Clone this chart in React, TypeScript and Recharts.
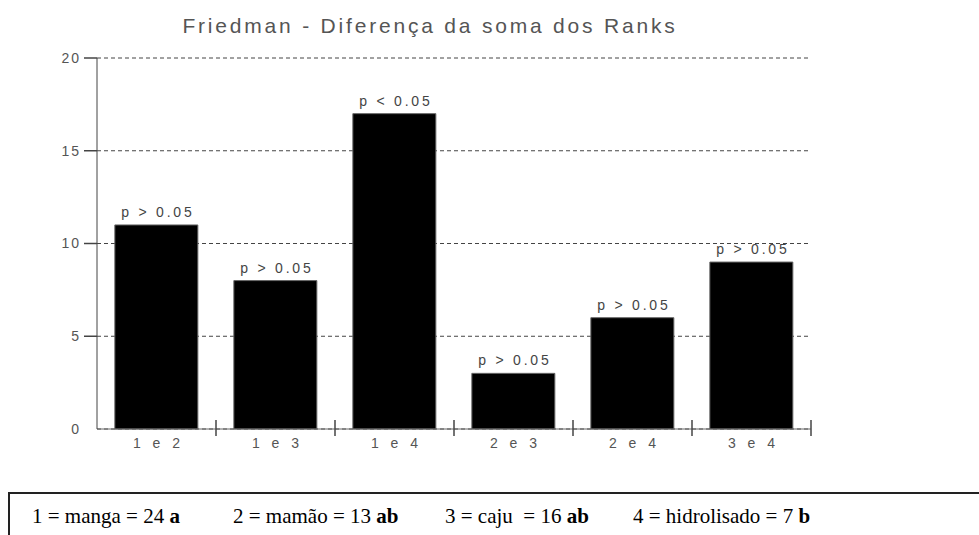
import React from "react";
import {
  Bar,
  BarChart,
  CartesianGrid,
  LabelList,
  XAxis,
  YAxis,
} from "recharts";

const comparisons = ["1 e 2", "1 e 3", "1 e 4", "2 e 3", "2 e 4", "3 e 4"];
const rankDiffs = [11, 8, 17, 3, 6, 9];
const pLabels = ["p > 0.05", "p > 0.05", "p < 0.05", "p > 0.05", "p > 0.05", "p > 0.05"];
const yTicks = [0, 5, 10, 15, 20];
const legendLabels = ["1 = manga = 24 ", "2 = mamão = 13 ", "3 = caju  = 16 ", "4 = hidrolisado = 7 "];
const legendGroups = ["a", "ab", "ab", "b"];
const legendX = [32, 233, 445, 633];

const data = comparisons.map((name, i) => ({
  name,
  value: rankDiffs[i],
  p: pLabels[i],
}));

const SANS = "'Liberation Sans', Arial, sans-serif";
const CHART_W = 979;
const CHART_H = 535;
const MARGIN = { top: 58, right: 168, left: 37, bottom: 76 };
const Y_W = 60;
const Y_TICK = 13;
const BAND = (CHART_W - MARGIN.left - MARGIN.right - Y_W) / comparisons.length;

// category label plus the separator tick at the right edge of each band
const CatTick = (props: any) => {
  const { x, y, payload } = props;
  const bx = x + BAND / 2;
  return (
    <g>
      <line x1={bx} x2={bx} y1={y - 18} y2={y - 2} stroke="#444" strokeWidth={1.5} />
      <text
        x={x + 2}
        y={y}
        dy="0.71em"
        textAnchor="middle"
        fill="#555"
        fontSize={14}
        fontFamily={SANS}
        style={{ letterSpacing: 4 }}
      >
        {payload.value}
      </text>
    </g>
  );
};

// y label plus the short tick line (none at zero)
const ValTick = (props: any) => {
  const { x, y, payload } = props;
  return (
    <g>
      {payload.value !== 0 && (
        <line x1={x + 3} x2={x + 3 + Y_TICK} y1={y} y2={y} stroke="#444" strokeWidth={1.5} />
      )}
      <text
        x={x}
        y={y}
        dy="0.355em"
        textAnchor="end"
        fill="#555"
        fontSize={14}
        fontFamily={SANS}
        style={{ letterSpacing: 2 }}
      >
        {payload.value}
      </text>
    </g>
  );
};

const PLabel = (props: any) => {
  const { x, y, width, value } = props;
  return (
    <text
      x={x + width / 2 + 1.5}
      y={y - 8}
      textAnchor="middle"
      fill="#444"
      fontSize={14}
      fontFamily={SANS}
      style={{ letterSpacing: 2.8 }}
    >
      {value}
    </text>
  );
};

const App = () => {
  return (
    <div style={{ position: "absolute", left: 0, top: 0, width: CHART_W, height: CHART_H, background: "#fff", overflow: "hidden" }}>
      <BarChart
        width={CHART_W}
        height={CHART_H}
        data={data}
        margin={MARGIN}
        barCategoryGap="15%"
      >
        <CartesianGrid vertical={false} stroke="#444" strokeDasharray="4 3" />
        <XAxis
          dataKey="name"
          height={30}
          stroke="#666"
          tickLine={false}
          tickSize={0}
          tickMargin={9}
          interval={0}
          tick={<CatTick />}
        />
        <YAxis
          width={Y_W}
          domain={[0, 20]}
          ticks={yTicks}
          stroke="#444"
          tickLine={false}
          tickSize={Y_TICK}
          tickMargin={3}
          interval={0}
          tick={<ValTick />}
        />
        <Bar
          dataKey="value"
          fill="#000"
          stroke="#666"
          strokeWidth={1}
          isAnimationActive={false}
        >
          <LabelList dataKey="p" content={<PLabel />} />
        </Bar>
      </BarChart>
      <svg
        width={CHART_W}
        height={CHART_H}
        style={{ position: "absolute", left: 0, top: 0, pointerEvents: "none" }}
      >
        <text
          x={430}
          y={33}
          textAnchor="middle"
          fill="#555"
          fontSize={21}
          fontFamily={SANS}
          style={{ letterSpacing: 2.8 }}
        >
          Friedman - Diferença da soma dos Ranks
        </text>
        <rect x={9} y={493} width={1000} height={60} fill="none" stroke="#222" strokeWidth={2} />
        {legendLabels.map((label, i) => (
          <text
            key={label}
            x={legendX[i]}
            y={523}
            fill="#000"
            fontSize={21}
            fontFamily="'Liberation Serif', 'Times New Roman', serif"
            style={{ whiteSpace: "pre" }}
          >
            {label}
            <tspan fontWeight="bold">{legendGroups[i]}</tspan>
          </text>
        ))}
      </svg>
    </div>
  );
};

export default App;
